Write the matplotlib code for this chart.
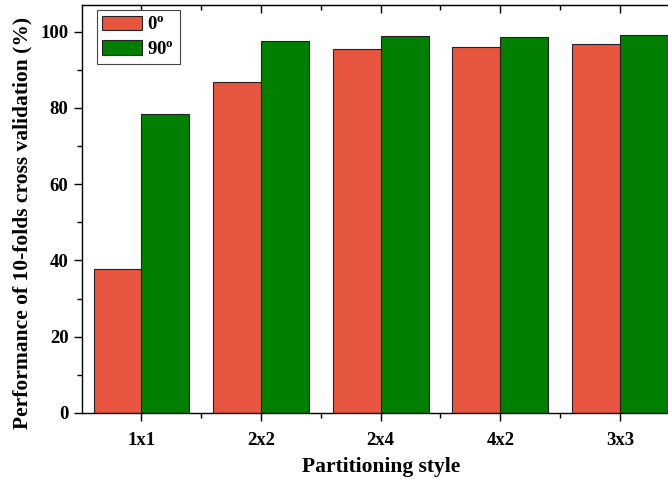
import matplotlib
matplotlib.use("Agg")
import matplotlib.pyplot as plt
import numpy as np

plt.rcParams['font.family'] = 'Liberation Serif'
plt.rcParams['font.weight'] = 'bold'
plt.rcParams['axes.labelweight'] = 'bold'
plt.rcParams['mathtext.fontset'] = 'custom'
plt.rcParams['mathtext.rm'] = 'Liberation Serif:bold'
plt.rcParams['mathtext.it'] = 'Liberation Serif:bold'
plt.rcParams['mathtext.bf'] = 'Liberation Serif:bold'

categories = ["1x1", "2x2", "2x4", "4x2", "3x3"]
deg0 = [37.8, 86.7, 95.4, 96.0, 96.7]
deg90 = [78.5, 97.5, 98.8, 98.5, 99.0]

fig = plt.figure(figsize=(6.68, 4.79), dpi=100)
ax = fig.add_axes([0.1223, 0.1378, 0.8952, 0.8518])

x = np.arange(1, len(categories) + 1)
w = 0.4
ax.bar(x - w / 2, deg0, w, color="#E8553F", edgecolor="#222222", linewidth=0.8, label=r"0$^{\rm o}$")
ax.bar(x + w / 2, deg90, w, color="#007F00", edgecolor="#222222", linewidth=0.8, label=r"90$^{\rm o}$")

ax.set_xlim(0.5, 5.5)
ax.set_ylim(0, 107)
ax.set_xticks(x)
ax.set_xticklabels(categories)
ax.set_xticks(np.arange(1.5, 5.5, 1), minor=True)
ax.set_yticks(np.arange(0, 101, 20))
ax.set_yticks(np.arange(10, 101, 20), minor=True)

ax.tick_params(axis="both", which="major", direction="out", length=6, width=1, labelsize=13.5)
ax.tick_params(axis="both", which="minor", direction="out", length=3.5, width=1)
ax.tick_params(axis="x", which="major", pad=8)
for s in ax.spines.values():
    s.set_linewidth(1)

# mirrored ticks on top point inward
top = ax.secondary_xaxis("top")
top.set_xticks(x)
top.set_xticks(np.arange(1.5, 5.5, 1), minor=True)
top.tick_params(which="major", direction="in", length=6, width=1, labeltop=False)
top.tick_params(which="minor", direction="in", length=3.5, width=1)

ax.set_xlabel("Partitioning style", fontsize=15.5, labelpad=5.5)
ax.set_ylabel("Performance of 10-folds cross validation (%)", fontsize=15.5)
ax.yaxis.set_label_coords(-0.082, 0.467)

leg = ax.legend(loc="upper left", bbox_to_anchor=(0.025, 0.988), fontsize=13.5,
                handlelength=2.13, handleheight=0.8, fancybox=False, edgecolor="#444444",
                framealpha=1, borderpad=0.3, labelspacing=0.38, handletextpad=0.27,
                borderaxespad=0)
leg.get_frame().set_linewidth(0.8)

fig.savefig("out.png", dpi=100)
